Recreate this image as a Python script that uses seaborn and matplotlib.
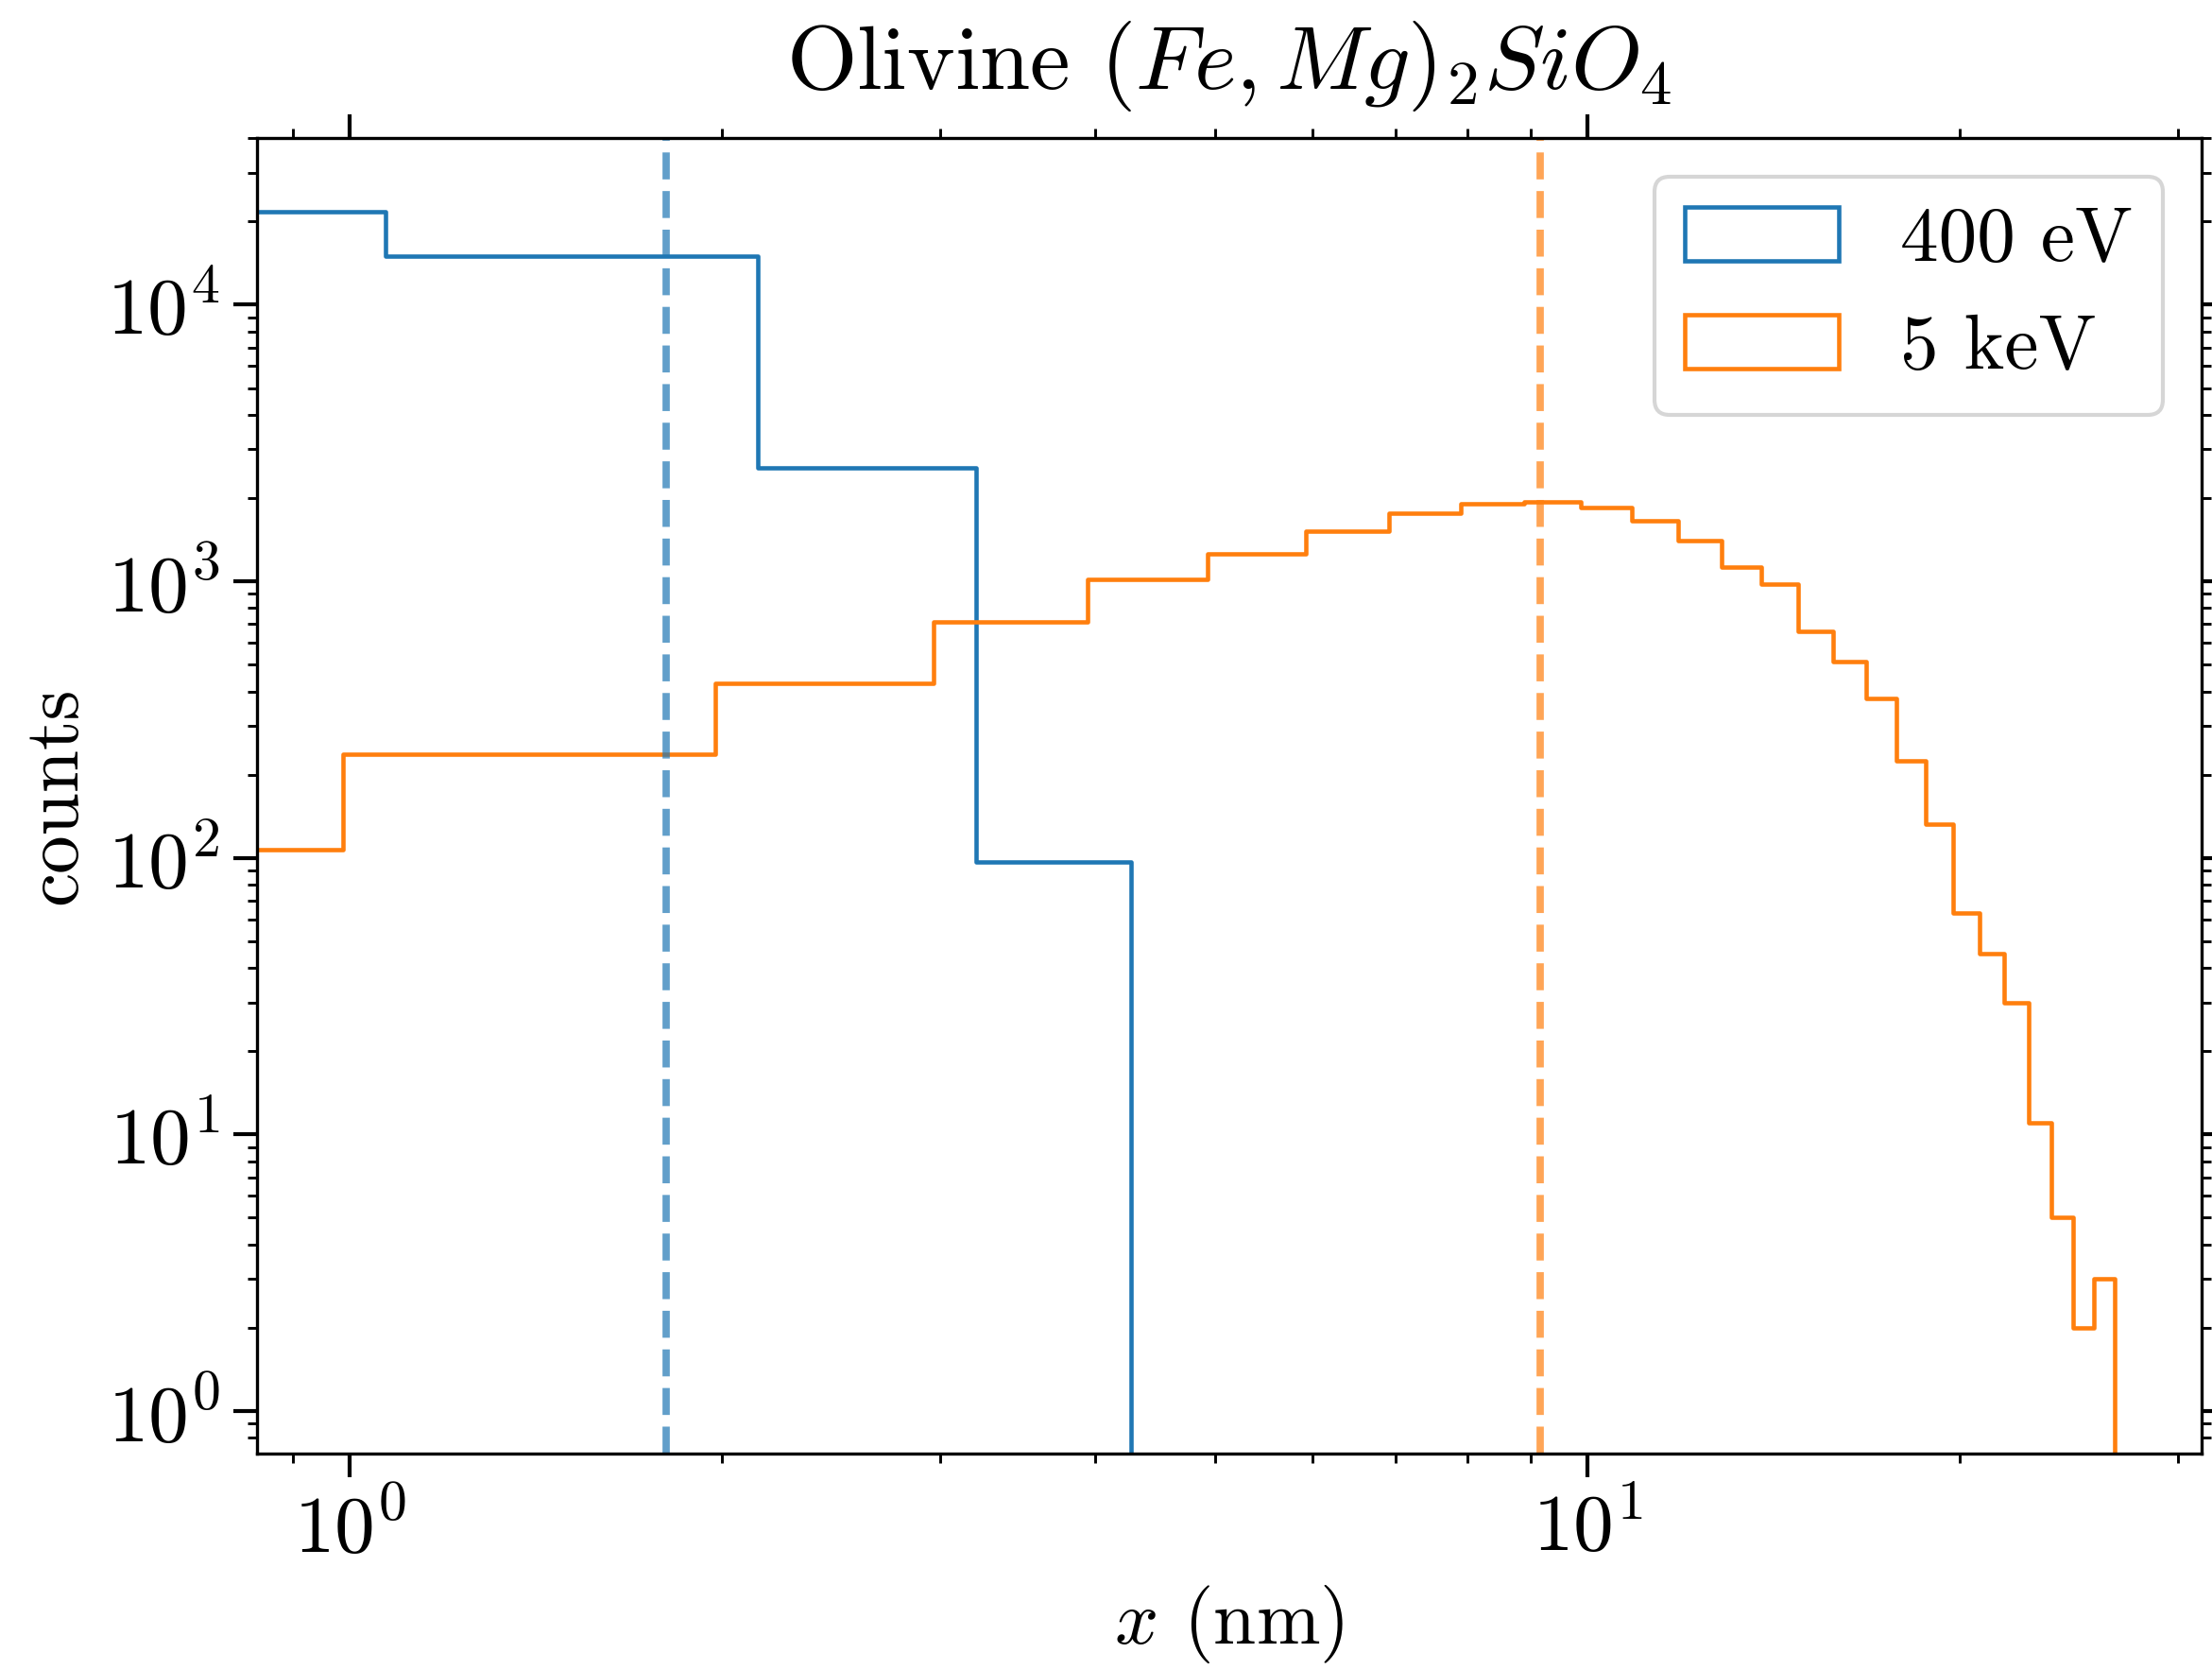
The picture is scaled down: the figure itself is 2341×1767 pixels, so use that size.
import numpy as np
import matplotlib
matplotlib.use("Agg")
import matplotlib.pyplot as plt
from matplotlib.patches import Patch
from matplotlib.ticker import LogLocator, NullFormatter
import seaborn as sns

# Implantation depth histograms for olivine, counts per depth bin
series_labels = ["400 eV", "5 keV"]
colors = ["#1f77b4", "#ff7f0e"]

low_bin_width = 1.069
low_counts = [21700, 15000, 2580, 97]

high_bin_width = 0.987
high_counts = [107, 237, 428, 713, 1016, 1256, 1515, 1759, 1908, 1935,
               1845, 1653, 1401, 1128, 975, 658, 513, 377, 224, 132,
               63, 45, 30, 11, 5, 2, 3]

# mean depth of each distribution (nm)
mean_depths = [1.80, 9.16]

x_limits = (0.8416, 31.34)
y_limits = (0.702, 40100)

sns.set_style("ticks")
plt.rcParams.update({
    "font.family": "serif",
    "font.serif": ["cmr10"],
    "mathtext.fontset": "cm",
    "axes.formatter.use_mathtext": True,
    "font.size": 20.5,
    "axes.titlesize": 23,
    "axes.labelsize": 19.5,
    "xtick.labelsize": 20.5,
    "ytick.labelsize": 20.5,
    "legend.fontsize": 19.5,
    "axes.linewidth": 0.8,
    "axes.edgecolor": "black",
    "axes.labelcolor": "black",
    "text.color": "black",
    "xtick.color": "black",
    "ytick.color": "black",
    "xtick.direction": "out",
    "ytick.direction": "out",
    "xtick.top": True,
    "ytick.right": True,
    "xtick.major.size": 6.0,
    "ytick.major.size": 6.0,
    "xtick.major.width": 1.0,
    "ytick.major.width": 1.0,
    "xtick.minor.size": 2.3,
    "ytick.minor.size": 2.3,
    "xtick.minor.width": 0.7,
    "ytick.minor.width": 0.7,
})

fig = plt.figure(figsize=(2341 / 300, 1767 / 300), dpi=300)
ax = fig.add_axes([0.1162, 0.1296, 0.8791, 0.7878])

for counts, width, color in [(low_counts, low_bin_width, colors[0]),
                             (high_counts, high_bin_width, colors[1])]:
    # one empty bin at the end so the outline drops back to zero
    weights = np.append(np.asarray(counts, dtype=float), 0.0)
    edges = np.arange(len(weights) + 1) * width
    centers = edges[:-1] + width / 2
    sns.histplot(x=centers, weights=weights, bins=edges.tolist(), element="step",
                 fill=False, color=color, linewidth=1.1, ax=ax)

for depth, color in zip(mean_depths, colors):
    ax.axvline(depth, color=color, linestyle="--", linewidth=1.85, alpha=0.7)

ax.set_xscale("log")
ax.set_yscale("log")
ax.set_xlim(*x_limits)
ax.set_ylim(*y_limits)
ax.xaxis.set_minor_formatter(NullFormatter())
ax.yaxis.set_minor_locator(LogLocator(base=10, subs=np.arange(2, 10), numticks=20))
ax.yaxis.set_minor_formatter(NullFormatter())

ax.set_xlabel("$x$ (nm)")
ax.set_ylabel("counts")
ax.set_title("Olivine $(Fe, Mg)_2SiO_4$", pad=12.5)

handles = [Patch(facecolor="none", edgecolor=c, linewidth=1.1) for c in colors]
ax.legend(handles, series_labels, loc="upper right", fancybox=True,
          framealpha=0.8, edgecolor="0.8")

fig.savefig("out.png", dpi=300)
